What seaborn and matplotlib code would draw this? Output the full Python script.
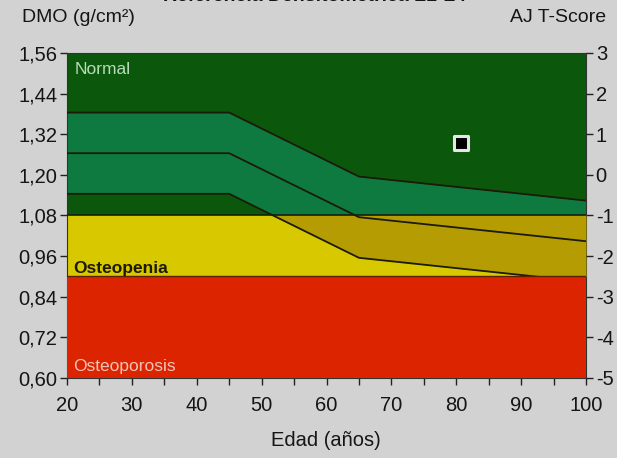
import numpy as np
import pandas as pd
import matplotlib
matplotlib.use("Agg")
import matplotlib.pyplot as plt
from matplotlib.patches import Rectangle
import seaborn as sns

# curva de referencia (edad, DMO)
ages = [20, 45, 65, 100]
ref_upper = [1.384, 1.384, 1.195, 1.124]
ref_mean = [1.264, 1.264, 1.075, 1.004]
ref_lower = [1.144, 1.144, 0.955, 0.884]

osteopenia_lim = 1.08
osteoporosis_lim = 0.90

# paciente
pat_age = [80.8]
pat_bmd = [1.293]

x_ticks = [20, 30, 40, 50, 60, 70, 80, 90, 100]
y_ticks = [0.60, 0.72, 0.84, 0.96, 1.08, 1.20, 1.32, 1.44, 1.56]
y_labels = ['0,60', '0,72', '0,84', '0,96', '1,08', '1,20', '1,32', '1,44', '1,56']
t_ticks = [-5, -4, -3, -2, -1, 0, 1, 2, 3]

c_bg = '#d2d2d2'
c_dkgreen = '#0b580c'
c_green = '#0f7a40'
c_yellow = '#d8c800'
c_olive = '#b59c02'
c_red = '#dc2400'

sns.set_theme(style='ticks')
plt.rcParams['font.family'] = ['Liberation Sans', 'DejaVu Sans']
plt.rcParams['axes.unicode_minus'] = False

fig = plt.figure(figsize=(6.17, 4.58), dpi=100, facecolor=c_bg)
ax = fig.add_axes([0.1086, 0.1747, 0.8412, 0.7096])
ax.set_facecolor(c_bg)

df = pd.DataFrame({'age': ages, 'upper': ref_upper, 'mean': ref_mean, 'lower': ref_lower})

# zonas
ax.axhspan(osteopenia_lim, 1.56, color=c_dkgreen, lw=0, zorder=0)
ax.fill_between(df['age'], df['lower'], df['upper'], color=c_green, lw=0, zorder=1)
ax.axhspan(osteoporosis_lim, osteopenia_lim, color=c_yellow, lw=0, zorder=2)
band = ax.fill_between(df['age'], df['lower'], df['upper'], color=c_olive, lw=0, zorder=3)
clip = Rectangle((20, osteoporosis_lim), 80, osteopenia_lim - osteoporosis_lim,
                 transform=ax.transData)
band.set_clip_path(clip)

for col in ['upper', 'mean', 'lower']:
    sns.lineplot(data=df, x='age', y=col, ax=ax, color='#1c1a08', lw=1.3, zorder=4)

ax.axhline(osteopenia_lim, color='#122010', lw=1.2, zorder=5)
ax.axhspan(0.60, osteoporosis_lim, color=c_red, lw=0, zorder=6)
ax.axhline(osteoporosis_lim, color='#5a2000', lw=1.0, zorder=6)

sns.scatterplot(x=pat_age, y=pat_bmd, ax=ax, marker='s', s=110, color='black',
                edgecolor='#e6e6e6', linewidth=2.2, zorder=8)

ax.set_xlim(20, 100)
ax.set_ylim(0.60, 1.56)
ax.set_xticks(x_ticks)
ax.set_xticks([25, 35, 45, 55, 65, 75, 85, 95], minor=True)
ax.set_yticks(y_ticks)
ax.set_yticklabels(y_labels)
ax.set_xlabel('')
ax.set_ylabel('')
ax.tick_params(axis='both', which='both', length=5, width=1, color='#222222',
               labelsize=14.5, labelcolor='#151515')
ax.tick_params(axis='x', which='major', pad=8)
ax.tick_params(axis='y', pad=2)
for sp in ax.spines.values():
    sp.set_color('#333333')
    sp.set_linewidth(0.8)

ax2 = ax.twinx()
ax2.set_ylim(-5, 3)
ax2.set_yticks(t_ticks)
ax2.set_yticklabels([str(t) for t in t_ticks])
ax2.tick_params(axis='y', length=5, width=1, color='#222222', labelsize=14.5,
                labelcolor='#151515', pad=2)
ax2.grid(False)
for sp in ax2.spines.values():
    sp.set_visible(False)

ax.text(21.2, 1.512, 'Normal', color='#b9dcb9', fontsize=12.5, va='center', zorder=9)
ax.text(21.0, 0.924, 'Osteopenia', color='#1c1a00', fontsize=12.5, va='center',
        fontweight='bold', zorder=9)
ax.text(21.0, 0.633, 'Osteoporosis', color='#f2c4b8', fontsize=12.5, va='center', zorder=9)

fig.text(22 / 617, 1 - 17 / 458, 'DMO (g/cm²)', fontsize=14, va='center', ha='left', color='#151515')
fig.text(606 / 617, 1 - 17 / 458, 'AJ T-Score', fontsize=14, va='center', ha='right', color='#151515')
fig.text(0.51, 1 + 3 / 458, 'Referencia Densitométrica L1-L4', fontsize=14, va='center',
         ha='center', fontweight='bold', color='#151515')
fig.text(326 / 617, 1 - 440 / 458, 'Edad (años)', fontsize=14.5, va='center', ha='center', color='#151515')

fig.savefig('out.png', dpi=100, facecolor=c_bg)
